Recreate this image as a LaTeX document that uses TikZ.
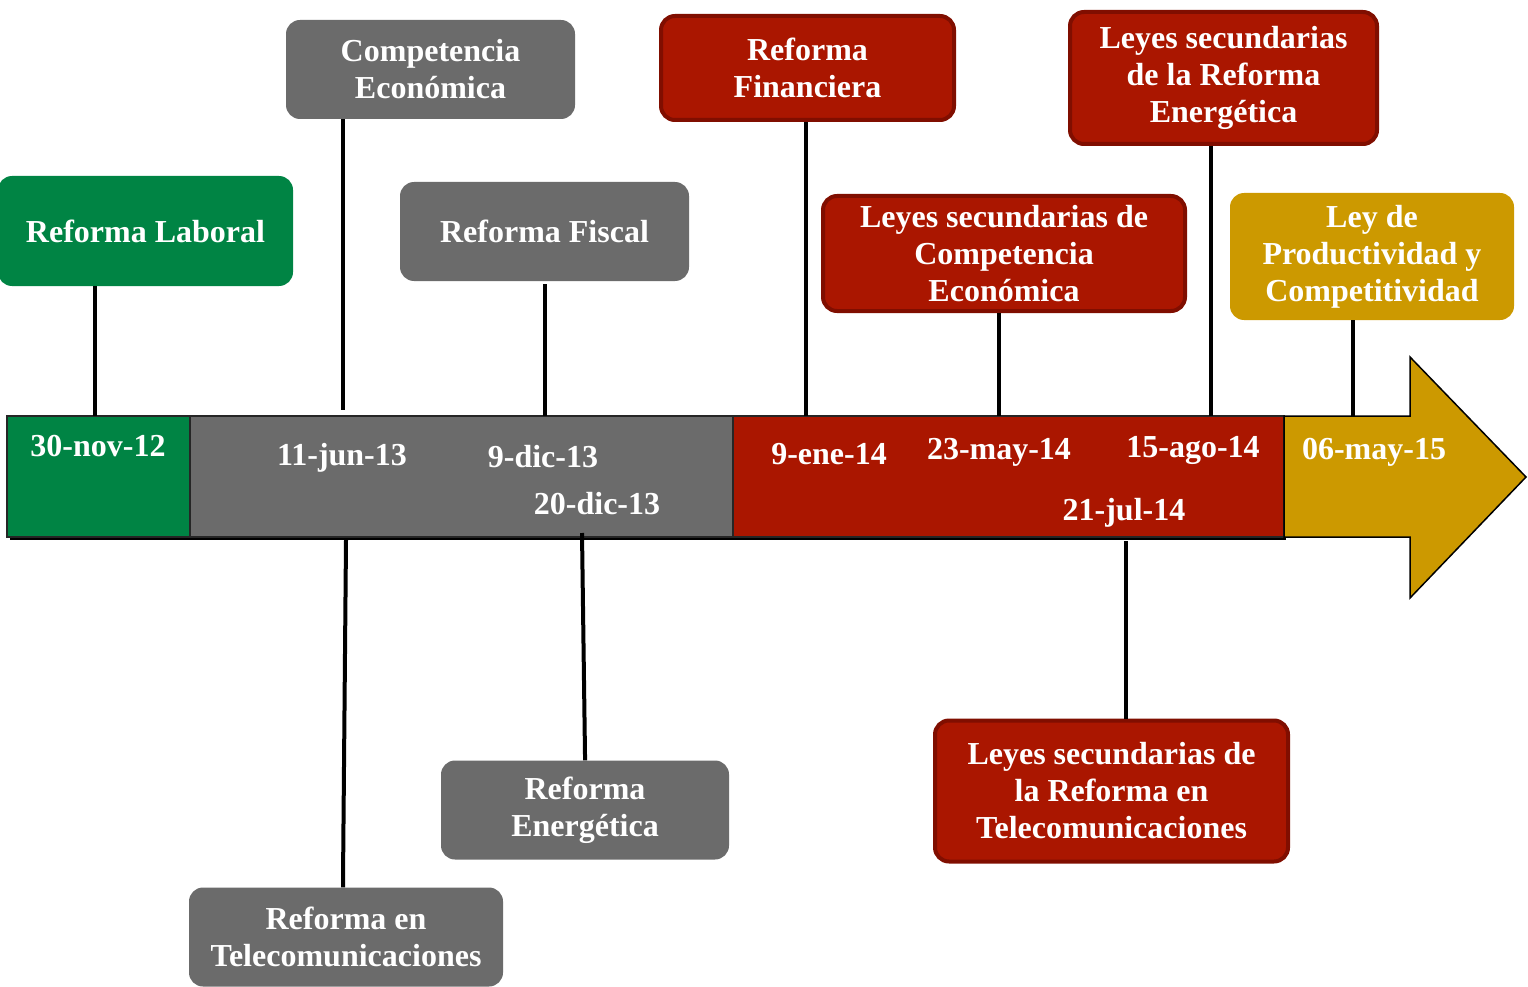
\documentclass[tikz,border=0pt]{standalone}
\usepackage{fontspec}
\setmainfont{Liberation Serif}
\definecolor{vgreen}{RGB}{0,132,68}
\definecolor{vgray}{RGB}{107,107,107}
\definecolor{vred}{RGB}{170,22,0}
\definecolor{vredb}{RGB}{128,14,0}
\definecolor{vgold}{RGB}{204,153,0}
\begin{document}
\begin{tikzpicture}[x=1pt,y=-1pt,
  txt/.style={text=white, font=\bfseries\fontsize{32}{37}\selectfont, align=center, inner sep=0pt},
  box/.style={txt, rounded corners=14pt, draw=none},
  greenbox/.style={box, fill=vgreen},
  graybox/.style={box, fill=vgray},
  redbox/.style={box, fill=vred, draw=vredb, line width=4pt},
  goldbox/.style={box, fill=vgold},
  seg/.style={rectangle, draw=black!85, line width=1.5pt, inner sep=0pt},
  conn/.style={line width=4pt, black},
  date/.style={txt}]
\useasboundingbox (0,0) rectangle (1528,987);

% timeline bar shadow
\fill[black] (10,419) rectangle (1286,540);
% segments
\node[seg, fill=vgreen, minimum width=183pt, minimum height=121pt] (s1) at (98.5,476.5) {};
\node[seg, fill=vgray, minimum width=543pt, minimum height=121pt] (s2) at (461.5,476.5) {};
\node[seg, fill=vred, minimum width=551pt, minimum height=121pt] (s3) at (1008.5,476.5) {};
\draw[fill=vgold, draw=black, line width=1.5pt] (1284,416) -- (1410,416) -- (1410,357) -- (1526,477) -- (1410,598) -- (1410,537) -- (1284,537) -- cycle;
\coordinate (s4n) at (1353,416);

% boxes
\node[greenbox, minimum width=295pt, minimum height=110pt] (lab) at (145.5,231) {Reforma Laboral};
\node[graybox, minimum width=289pt, minimum height=99pt] (comp) at (430.5,69.5) {Competencia\\Económica};
\node[graybox, minimum width=289pt, minimum height=99pt] (fis) at (544.5,231.5) {Reforma Fiscal};
\node[redbox, minimum width=293pt, minimum height=104pt] (fin) at (807.5,68) {Reforma\\Financiera};
\node[redbox, minimum width=307pt, minimum height=132pt] (lse) at (1223.5,78) {Leyes secundarias\\de la Reforma\\Energética};
\node[redbox, minimum width=362pt, minimum height=115pt] (lsc) at (1004,253.5) {Leyes secundarias de\\Competencia\\Económica};
\node[goldbox, minimum width=284pt, minimum height=127pt] (prod) at (1372,256.5) {Ley de\\Productividad y\\Competitividad};
\node[graybox, minimum width=288pt, minimum height=99pt] (ene) at (585,810) {Reforma\\Energética};
\node[graybox, minimum width=314pt, minimum height=99pt] (tel) at (346,937) {Reforma en\\Telecomunicaciones};
\node[redbox, minimum width=353pt, minimum height=141pt] (lst) at (1111.5,791) {Leyes secundarias de\\la Reforma en\\Telecomunicaciones};

% connectors
\coordinate (c1) at (95,416);
\coordinate (c2) at (343,410);
\coordinate (c3) at (545,416);
\coordinate (c4) at (806,416);
\coordinate (c5) at (999,416);
\coordinate (c6) at (1211,416);
\draw[conn] (lab.south -| c1) -- (c1);
\draw[conn] (comp.south -| c2) -- (c2);
\draw[conn] (c3 |- fis.south) ++(0,3) -- (c3);
\draw[conn] (fin.south -| c4) -- (c4);
\draw[conn] (lsc.south -| c5) -- (c5);
\draw[conn] (lse.south -| c6) -- (c6);
\draw[conn] (prod.south -| s4n) -- (s4n);
\coordinate (b1) at (346,540);
\coordinate (b2) at (582,533);
\coordinate (b3) at (1126,541);
\draw[conn] (b1) -- (343,880) coordinate (t1) -- (t1 |- tel.north);
\draw[conn] (b2) -- (585,755) coordinate (t2) -- (t2 |- ene.north);
\draw[conn] (b3) -- (b3 |- lst.north);

% dates
\node[date] (d1) at (98,446) {30-nov-12};
\node[date] (d2) at (342,458) {11-jun-13};
\node[date] (d3) at (543,457) {9-dic-13};
\node[date] (d4) at (597,504) {20-dic-13};
\node[date] (d5) at (829,454) {9-ene-14};
\node[date] (d6) at (999,452) {23-may-14};
\node[date] (d7) at (1193,450) {15-ago-14};
\node[date] (d8) at (1124,513) {21-jul-14};
\node[date] (d9) at (1374,452) {06-may-15};
\end{tikzpicture}
\end{document}
